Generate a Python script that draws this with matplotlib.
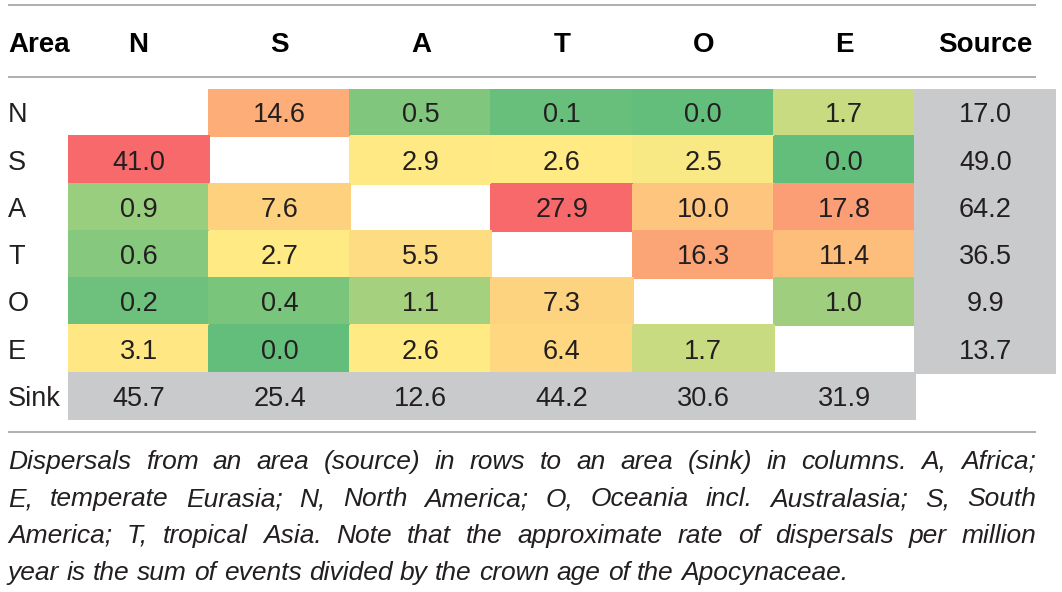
import matplotlib
matplotlib.use('Agg')
import matplotlib.pyplot as plt
import numpy as np
from matplotlib.colors import LinearSegmentedColormap, ListedColormap, TwoSlopeNorm
import matplotlib.transforms as mtransforms

# ---------------- data ----------------
areas = ['N', 'S', 'A', 'T', 'O', 'E']
corner_label = 'Area'
source_label = 'Source'
sink_label = 'Sink'
dispersals = [
    [np.nan, 14.6, 0.5, 0.1, 0.0, 1.7],
    [41.0, np.nan, 2.9, 2.6, 2.5, 0.0],
    [0.9, 7.6, np.nan, 27.9, 10.0, 17.8],
    [0.6, 2.7, 5.5, np.nan, 16.3, 11.4],
    [0.2, 0.4, 1.1, 7.3, np.nan, 1.0],
    [3.1, 0.0, 2.6, 6.4, 1.7, np.nan],
]
source_totals = [17.0, 49.0, 64.2, 36.5, 9.9, 13.7]
sink_totals = [45.7, 25.4, 12.6, 44.2, 30.6, 31.9]
caption_lines = [
    "Dispersals from an area (source) in rows to an area (sink) in columns. A, Africa;",
    "E, temperate Eurasia; N, North America; O, Oceania incl. Australasia; S, South",
    "America; T, tropical Asia. Note that the approximate rate of dispersals per million",
    "year is the sum of events divided by the crown age of the Apocynaceae.",
]

# ---------------- style ----------------
W, H = 1062, 592
FONT = 'Liberation Sans'
CAP_FONT = 'Liberation Sans'
TXT = '#231F20'
GRAY = '#C9CACC'
RULE = '#A8A8A8'
cmap = LinearSegmentedColormap.from_list('scale', ['#63BE7B', '#FFEB84', '#F8696B'])
norm = TwoSlopeNorm(vmin=0.0, vcenter=2.6, vmax=27.9)

fig = plt.figure(figsize=(W / 100, H / 100), dpi=100)
fig.patch.set_facecolor('white')

# overlay axes in pixel coordinates
ax_o = fig.add_axes([0, 0, 1, 1])
ax_o.set_xlim(0, W)
ax_o.set_ylim(H, 0)
ax_o.axis('off')

# table axes (cell units)
t_left, t_right, t_top, t_bottom = 68, 1056, 89, 420
ax_t = fig.add_axes([t_left / W, 1 - t_bottom / H, (t_right - t_left) / W, (t_bottom - t_top) / H])
n = len(areas)
ax_t.set_xlim(0, n + 1)
ax_t.set_ylim(n + 1, 0)
ax_t.axis('off')

M = np.ma.masked_invalid(np.array(dispersals, dtype=float))
ax_t.pcolormesh(np.arange(n + 1), np.arange(n + 1), M, cmap=cmap, norm=norm,
                edgecolors='face', linewidth=0.3, antialiased=False)

G = np.full((n + 1, n + 1), np.nan)
G[:n, n] = source_totals
G[n, :n] = sink_totals
ax_t.pcolormesh(np.arange(n + 2), np.arange(n + 2), np.ma.masked_invalid(G),
                cmap=ListedColormap([GRAY]), edgecolors='face', linewidth=0.3,
                antialiased=False)

num_size = 19.5
row_px = (t_bottom - t_top) / (n + 1)
cap_off = (num_size * 100 / 72) * 0.716 / 2 / row_px

for i in range(n):
    for j in range(n):
        v = dispersals[i][j]
        if not np.isnan(v):
            ax_t.text(j + 0.5, i + 0.5 + cap_off, f'{v:.1f}', ha='center', va='baseline',
                      fontsize=num_size, family=FONT, color=TXT)
    ax_t.text(n + 0.5, i + 0.5 + cap_off, f'{source_totals[i]:.1f}', ha='center',
              va='baseline', fontsize=num_size, family=FONT, color=TXT)
for j in range(n):
    ax_t.text(j + 0.5, n + 0.5 + cap_off, f'{sink_totals[j]:.1f}', ha='center',
              va='baseline', fontsize=num_size, family=FONT, color=TXT)

# row labels
tr_rows = mtransforms.blended_transform_factory(ax_o.transData, ax_t.transData)
for i, lab in enumerate(areas + [sink_label]):
    ax_o.text(8, i + 0.5 + cap_off, lab, transform=tr_rows, ha='left', va='baseline',
              fontsize=num_size, family=FONT, color=TXT)

# header
tr_cols = mtransforms.blended_transform_factory(ax_t.transData, ax_o.transData)
ax_o.text(8, 52, corner_label, ha='left', va='baseline', fontsize=20,
          family=FONT, weight='bold', color='black')
for j, lab in enumerate(areas + [source_label]):
    ax_o.text(j + 0.5, 52, lab, transform=tr_cols, ha='center', va='baseline',
              fontsize=20, family=FONT, weight='bold', color='black')

# rules
for y in (5, 77, 432):
    ax_o.plot([8, 1036], [y, y], color=RULE, lw=1.3, solid_capstyle='butt')

# caption (justified)
fig.canvas.draw()
renderer = fig.canvas.get_renderer()


def text_w(s, size):
    t = ax_o.text(0, 0, s, fontsize=size, family=CAP_FONT, style='italic')
    w = t.get_window_extent(renderer).width
    t.remove()
    return w


cap_size = 19.0
x0, x1 = 8, 1036
baselines = [469, 506, 543, 580]
space_w = text_w('x x', cap_size) - text_w('xx', cap_size)
for k, line in enumerate(caption_lines):
    words = line.split(' ')
    widths = [text_w(w_, cap_size) for w_ in words]
    if k < len(caption_lines) - 1:
        gap = max(0.6 * space_w, (x1 - x0 - sum(widths)) / (len(words) - 1))
    else:
        gap = space_w
    x = x0
    for w_, ww in zip(words, widths):
        ax_o.text(x, baselines[k], w_, ha='left', va='baseline', fontsize=cap_size,
                  family=CAP_FONT, style='italic', color=TXT)
        x += ww + gap

fig.savefig('out.png', dpi=100, facecolor='white')
